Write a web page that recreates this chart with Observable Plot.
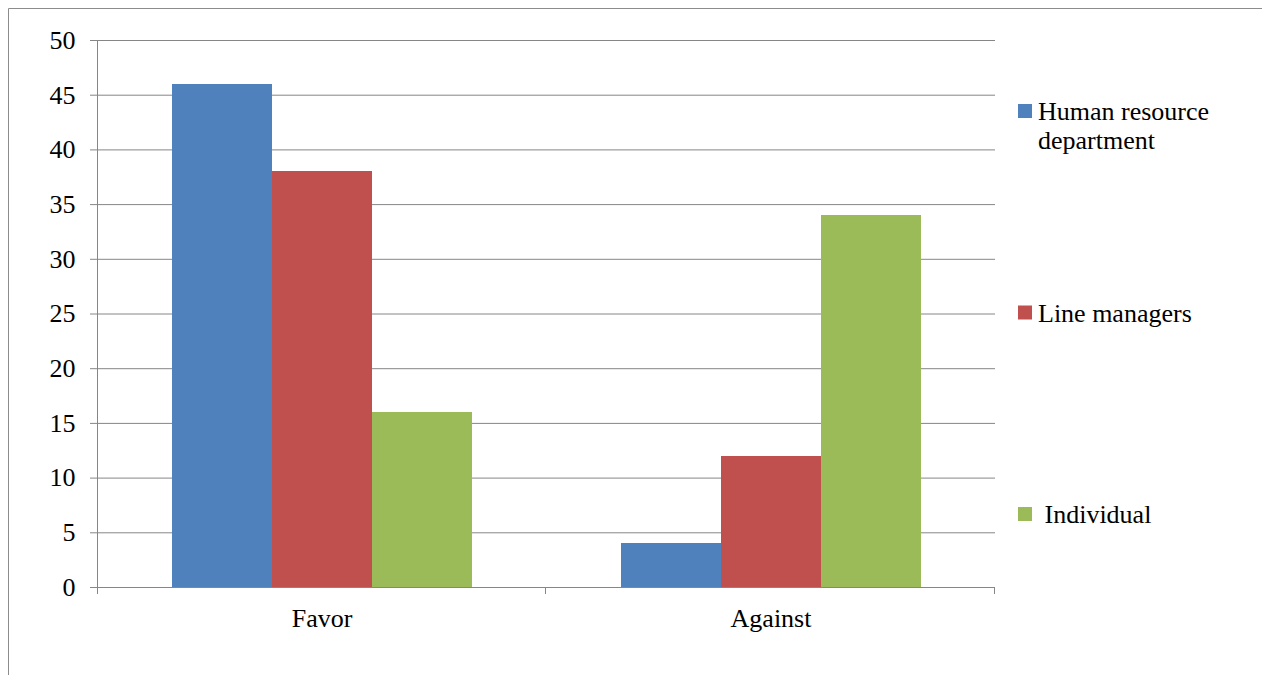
<!DOCTYPE html>
<html>
<head>
<meta charset="utf-8">
<script src="https://cdn.jsdelivr.net/npm/d3@7"></script>
<script src="https://cdn.jsdelivr.net/npm/@observablehq/plot@0.6"></script>
<style>
  html, body { margin: 0; background: #fff; overflow: hidden; }
  #chart svg, #chart svg text { font-family: "Liberation Serif", serif !important; }
  #chart svg [aria-label="y-axis tick"] { color: #868686; }
  #chart svg [aria-label="y-axis"] .tick line { stroke: #868686; }
</style>
</head>
<body>
<div id="chart"></div>
<script>
// Survey answers by respondent group
const categories = ["Favor", "Against"];
const series = ["Human resource department", "Line managers", "Individual"];
const hrValues = [46, 4];
const lineManagerValues = [38, 12];
const individualValues = [16, 34];
const yTicks = [0, 5, 10, 15, 20, 25, 30, 35, 40, 45, 50];
const seriesColors = ["#4F81BD", "#C0504D", "#9BBB59"];
const legendLines = [["Human resource", "department"], ["Line managers"], ["\u00A0Individual"]];

const valuesBySeries = [hrValues, lineManagerValues, individualValues];
const rows = categories.flatMap((category, i) =>
  series.map((s, j) => ({ category, series: s, value: valuesBySeries[j][i] }))
);

const W = 1262, H = 675;
const axisGray = "#868686";
const fontFamily = "Liberation Serif";

const plot = Plot.plot({
  width: W,
  height: H,
  marginLeft: 97,
  marginRight: 267,
  marginTop: 40,
  marginBottom: 88,
  style: { fontFamily, fontSize: "26px", color: "#000", background: "#fff", overflow: "hidden" },
  facet: { data: rows, x: "category" },
  fx: { domain: categories, padding: 0, label: null, tickSize: 0, tickPadding: 21, axis: "bottom" },
  x: { domain: series, axis: null, paddingInner: 0, paddingOuter: 0.745 },
  y: { domain: [0, 50], ticks: yTicks, tickSize: 7, tickPadding: 15, label: null },
  color: { domain: series, range: seriesColors },
  marks: [
    Plot.ruleY(yTicks, { stroke: axisGray, strokeWidth: 1 }),
    Plot.barY(rows, { x: "series", y: "value", fill: "series", shapeRendering: "crispEdges" }),
    Plot.ruleY([0], { stroke: axisGray })
  ]
});

document.getElementById("chart").appendChild(plot);
const svgEl = plot.tagName.toLowerCase() === "svg" ? plot : plot.querySelector("svg");
const svg = d3.select(svgEl);

// Vertical axis line and category boundary ticks, from the plot's own scales
const fxInfo = plot.scale("fx");
const yInfo = plot.scale("y");
const fxBand = d3.scaleBand().domain(fxInfo.domain).range(fxInfo.range).padding(0);
const yLin = d3.scaleLinear().domain(yInfo.domain).range(yInfo.range);
const y0 = yLin(0), yTop = yLin(50);
const boundaries = fxBand.domain().map(d => fxBand(d)).concat([fxBand(fxBand.domain().at(-1)) + fxBand.bandwidth()]);

const axisG = svg.append("g").attr("stroke", axisGray).attr("stroke-width", 1);
axisG.append("line")
  .attr("x1", Math.round(boundaries[0]) + 0.5).attr("x2", Math.round(boundaries[0]) + 0.5)
  .attr("y1", yTop).attr("y2", y0 + 7);
axisG.selectAll("line.cat-tick").data(boundaries.slice(1)).join("line")
  .attr("class", "cat-tick")
  .attr("x1", d => Math.round(d) - 0.5).attr("x2", d => Math.round(d) - 0.5)
  .attr("y1", y0).attr("y2", y0 + 7);

// Legend on the right
const colorOf = d3.scaleOrdinal().domain(series).range(seriesColors);
const legend = svg.append("g")
  .attr("font-family", fontFamily)
  .attr("font-size", 26)
  .attr("text-anchor", "start")
  .attr("fill", "#000");
const legendX = 1018, legendTop = 104, legendStep = 201.5, swatch = 14;
series.forEach((s, i) => {
  const top = legendTop + i * legendStep;
  legend.append("rect")
    .attr("x", legendX).attr("y", top)
    .attr("width", swatch).attr("height", swatch)
    .attr("fill", colorOf(s));
  const text = legend.append("text")
    .attr("text-anchor", "start")
    .attr("x", legendX + swatch + 6)
    .attr("y", top + 16);
  legendLines[i].forEach((line, k) => {
    text.append("tspan")
      .attr("x", legendX + swatch + 6)
      .attr("dy", k === 0 ? 0 : 29)
      .text(line);
  });
});

// Chart border: only its left and top edges fall inside the page
const border = svg.append("g").attr("stroke", "#8c8c8c").attr("stroke-width", 1);
border.append("line").attr("x1", 8.5).attr("x2", 8.5).attr("y1", 8.5).attr("y2", H);
border.append("line").attr("x1", 8.5).attr("x2", W).attr("y1", 8.5).attr("y2", 8.5);
</script>
</body>
</html>
